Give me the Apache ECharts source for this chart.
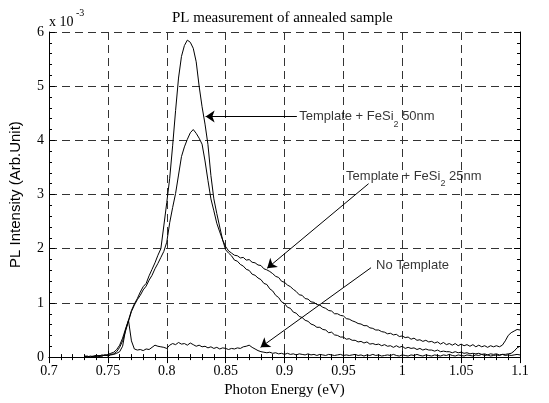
<!DOCTYPE html>
<html>
<head>
<meta charset="utf-8">
<script src="https://cdn.jsdelivr.net/npm/echarts@6/dist/echarts.min.js"></script>
<style>
  html, body { margin: 0; padding: 0; background: #fff; }
  #chart { width: 549px; height: 403px; }
</style>
</head>
<body>
<div id="chart"></div>
<script>
// photon energy (eV), one row = 0.025 eV
const energy = [
  0.73, 0.7325, 0.735, 0.7375, 0.74, 0.7425, 0.745, 0.7475, 0.75, 0.7525,
  0.755, 0.7575, 0.76, 0.7625, 0.765, 0.7675, 0.77, 0.7725, 0.775, 0.7775,
  0.78, 0.7825, 0.785, 0.7875, 0.79, 0.7925, 0.795, 0.7975, 0.8, 0.8025,
  0.805, 0.8075, 0.81, 0.8125, 0.815, 0.8175, 0.82, 0.8225, 0.825, 0.8275,
  0.83, 0.8325, 0.835, 0.8375, 0.84, 0.8425, 0.845, 0.8475, 0.85, 0.8525,
  0.855, 0.8575, 0.86, 0.8625, 0.865, 0.8675, 0.87, 0.8725, 0.875, 0.8775,
  0.88, 0.8825, 0.885, 0.8875, 0.89, 0.8925, 0.895, 0.8975, 0.9, 0.9025,
  0.905, 0.9075, 0.91, 0.9125, 0.915, 0.9175, 0.92, 0.9225, 0.925, 0.9275,
  0.93, 0.9325, 0.935, 0.9375, 0.94, 0.9425, 0.945, 0.9475, 0.95, 0.9525,
  0.955, 0.9575, 0.96, 0.9625, 0.965, 0.9675, 0.97, 0.9725, 0.975, 0.9775,
  0.98, 0.9825, 0.985, 0.9875, 0.99, 0.9925, 0.995, 0.9975, 1.0, 1.0025,
  1.005, 1.0075, 1.01, 1.0125, 1.015, 1.0175, 1.02, 1.0225, 1.025, 1.0275,
  1.03, 1.0325, 1.035, 1.0375, 1.04, 1.0425, 1.045, 1.0475, 1.05, 1.0525,
  1.055, 1.0575, 1.06, 1.0625, 1.065, 1.0675, 1.07, 1.0725, 1.075, 1.0775,
  1.08, 1.0825, 1.085, 1.0875, 1.09, 1.0925, 1.095, 1.0975, 1.1
];

// Template + FeSi2 50nm  (x 10^-3)
const fesi50 = [
  0.01, 0.00, 0.02, 0.01, 0.03, 0.02, 0.04, 0.03, 0.05, 0.07,
  0.09, 0.14, 0.22, 0.35, 0.52, 0.68, 0.86, 0.98, 1.08, 1.20,
  1.30, 1.36, 1.50, 1.62, 1.74, 1.88, 2.00, 2.42, 2.85, 3.30,
  3.90, 4.55, 5.15, 5.55, 5.75, 5.85, 5.81, 5.70, 5.45, 5.00,
  4.62, 4.30, 3.92, 3.35, 2.92, 2.65, 2.40, 2.16, 1.98, 1.92,
  1.87, 1.79, 1.77, 1.71, 1.68, 1.62, 1.60, 1.53, 1.51, 1.46,
  1.43, 1.36, 1.34, 1.26, 1.22, 1.14, 1.10, 1.02, 0.99, 0.92,
  0.90, 0.83, 0.81, 0.75, 0.73, 0.68, 0.66, 0.61, 0.59, 0.55,
  0.55, 0.51, 0.50, 0.45, 0.46, 0.41, 0.40, 0.37, 0.37, 0.33,
  0.34, 0.31, 0.31, 0.28, 0.29, 0.26, 0.28, 0.24, 0.25, 0.23,
  0.24, 0.21, 0.23, 0.20, 0.21, 0.18, 0.21, 0.18, 0.20, 0.16,
  0.18, 0.16, 0.17, 0.14, 0.16, 0.13, 0.15, 0.13, 0.13, 0.11,
  0.13, 0.10, 0.11, 0.10, 0.10, 0.08, 0.10, 0.08, 0.09, 0.07,
  0.08, 0.06, 0.07, 0.06, 0.07, 0.05, 0.06, 0.04, 0.06, 0.05,
  0.06, 0.04, 0.05, 0.05, 0.06, 0.07, 0.11, 0.17, 0.20
];

// Template + FeSi2 25nm
const fesi25 = [
  0.02, 0.01, 0.00, 0.02, 0.01, 0.03, 0.02, 0.04, 0.03, 0.05,
  0.06, 0.10, 0.18, 0.30, 0.48, 0.66, 0.84, 0.96, 1.06, 1.14,
  1.24, 1.31, 1.42, 1.51, 1.63, 1.73, 1.84, 1.95, 2.12, 2.48,
  2.76, 3.02, 3.36, 3.70, 3.88, 4.02, 4.14, 4.20, 4.13, 4.04,
  3.93, 3.62, 3.26, 2.92, 2.70, 2.47, 2.31, 2.16, 2.04, 1.96,
  1.92, 1.88, 1.87, 1.83, 1.84, 1.79, 1.80, 1.75, 1.74, 1.70,
  1.69, 1.63, 1.61, 1.58, 1.54, 1.49, 1.47, 1.40, 1.38, 1.33,
  1.30, 1.25, 1.21, 1.15, 1.14, 1.08, 1.07, 1.02, 1.01, 0.97,
  0.96, 0.92, 0.90, 0.86, 0.85, 0.80, 0.80, 0.77, 0.76, 0.71,
  0.70, 0.67, 0.65, 0.62, 0.61, 0.58, 0.58, 0.54, 0.53, 0.50,
  0.50, 0.47, 0.46, 0.43, 0.44, 0.41, 0.42, 0.38, 0.39, 0.36,
  0.37, 0.33, 0.35, 0.31, 0.32, 0.29, 0.31, 0.28, 0.29, 0.26,
  0.28, 0.24, 0.27, 0.23, 0.25, 0.22, 0.25, 0.21, 0.24, 0.21,
  0.23, 0.20, 0.23, 0.19, 0.22, 0.19, 0.21, 0.18, 0.21, 0.19,
  0.21, 0.19, 0.22, 0.30, 0.40, 0.45, 0.48, 0.51, 0.50
];

// No Template
const noTemplate = [
  0.01, 0.02, 0.00, 0.01, 0.03, 0.01, 0.02, 0.04, 0.02, 0.04,
  0.05, 0.07, 0.10, 0.20, 0.50, 0.68, 0.30, 0.15, 0.13, 0.14,
  0.12, 0.15, 0.14, 0.18, 0.22, 0.20, 0.19, 0.18, 0.16, 0.22,
  0.25, 0.23, 0.27, 0.24, 0.25, 0.22, 0.26, 0.23, 0.20, 0.22,
  0.19, 0.20, 0.17, 0.19, 0.16, 0.18, 0.15, 0.17, 0.16, 0.14,
  0.16, 0.15, 0.17, 0.16, 0.19, 0.20, 0.22, 0.18, 0.15, 0.12,
  0.10, 0.09, 0.08, 0.09, 0.07, 0.08, 0.06, 0.07, 0.05, 0.07,
  0.05, 0.06, 0.04, 0.06, 0.05, 0.04, 0.06, 0.04, 0.05, 0.03,
  0.05, 0.04, 0.03, 0.05, 0.04, 0.03, 0.04, 0.05, 0.03, 0.04,
  0.03, 0.04, 0.05, 0.03, 0.04, 0.02, 0.04, 0.03, 0.05, 0.03,
  0.04, 0.02, 0.03, 0.04, 0.03, 0.05, 0.03, 0.02, 0.04, 0.03,
  0.02, 0.04, 0.03, 0.05, 0.03, 0.02, 0.04, 0.03, 0.02, 0.04,
  0.03, 0.02, 0.04, 0.03, 0.05, 0.03, 0.02, 0.04, 0.03, 0.02,
  0.04, 0.03, 0.02, 0.04, 0.03, 0.05, 0.03, 0.04, 0.02, 0.03,
  0.04, 0.03, 0.05, 0.03, 0.04, 0.03, 0.04, 0.05, 0.04
];

// annotations: label anchor, arrow tail, arrow head (data coords)
const labelText = [
  'Template + FeSi{s|2} 50nm',
  'Template + FeSi{s|2} 25nm',
  'No Template'
];
const labelPos = [[0.9125, 4.44], [0.9523, 3.34], [0.9777, 1.69]];
const arrowFrom = [[0.9105, 4.44], [0.9714, 3.20], [0.9735, 1.65]];
const arrowTo = [[0.8330, 4.44], [0.8853, 1.64], [0.8797, 0.18]];

const serif = '"Liberation Serif", "Times New Roman", serif';
const sans = '"Liberation Sans", Arial, sans-serif';

function pairs(ys) {
  return energy.map(function (e, i) { return [e, ys[i]]; });
}

const chart = echarts.init(document.getElementById('chart'));

const baseAxis = {
  axisLine: { show: true, lineStyle: { color: '#000', width: 1 } },
  axisTick: { show: true, inside: true, length: 6, lineStyle: { color: '#000' } },
  minorTick: { show: true, splitNumber: 5, length: 3, lineStyle: { color: '#000' } },
};

const option = {
  animation: false,
  backgroundColor: '#fff',
  title: {
    text: 'PL measurement of annealed sample',
    left: 167,
    top: 6,
    textStyle: { fontFamily: serif, fontSize: 15, fontWeight: 'normal', color: '#000' }
  },
  graphic: [
    { type: 'text', left: 49, top: 15, style: { text: 'x 10', font: '14px ' + serif, fill: '#000' } },
    { type: 'text', left: 76, top: 8, style: { text: '-3', font: '10px ' + serif, fill: '#000' } }
  ],
  grid: { left: 48, right: 29, top: 32, bottom: 40 },
  xAxis: [
    Object.assign({}, baseAxis, {
      type: 'value', position: 'bottom', min: 0.7, max: 1.1, interval: 0.05,
      name: 'Photon Energy (eV)', nameLocation: 'middle', nameGap: 21,
      nameTextStyle: { fontFamily: serif, fontSize: 15, color: '#000' },
      axisLabel: {
        margin: 7, color: '#000', fontFamily: serif, fontSize: 14,
        formatter: function (v) { return String(+v.toFixed(2)); }
      },
      splitLine: { show: true, lineStyle: { color: '#333', type: [8, 5], width: 1 } }
    }),
    Object.assign({}, baseAxis, {
      type: 'value', position: 'top', min: 0.7, max: 1.1, interval: 0.05,
      axisLabel: { show: false }, splitLine: { show: false }
    })
  ],
  yAxis: [
    Object.assign({}, baseAxis, {
      type: 'value', position: 'left', min: 0, max: 6, interval: 1,
      name: 'PL Intensity (Arb.Unit)', nameLocation: 'middle', nameGap: 26,
      nameTextStyle: { fontFamily: sans, fontSize: 15, color: '#000' },
      axisLabel: { margin: 5, color: '#000', fontFamily: serif, fontSize: 14 },
      splitLine: { show: true, lineStyle: { color: '#333', type: [8, 5], width: 1 } }
    }),
    Object.assign({}, baseAxis, {
      type: 'value', position: 'right', min: 0, max: 6, interval: 1,
      axisLabel: { show: false }, splitLine: { show: false }
    })
  ],
  series: [
    {
      name: 'Template + FeSi2 50nm', type: 'line', data: pairs(fesi50),
      showSymbol: false, lineStyle: { color: '#000', width: 1 }, silent: true
    },
    {
      name: 'Template + FeSi2 25nm', type: 'line', data: pairs(fesi25),
      showSymbol: false, lineStyle: { color: '#000', width: 1 }, silent: true
    },
    {
      name: 'No Template', type: 'line', data: pairs(noTemplate),
      showSymbol: false, lineStyle: { color: '#000', width: 1 }, silent: true
    },
    {
      name: 'labels', type: 'scatter', data: labelPos, symbolSize: 0, silent: true,
      label: {
        show: true, position: 'right', distance: 0,
        formatter: function (p) { return labelText[p.dataIndex]; },
        rich: {
          s: { fontFamily: sans, fontSize: 9, color: '#000', lineHeight: 24, verticalAlign: 'bottom' }
        },
        fontFamily: sans, fontSize: 13, color: '#000', lineHeight: 24, verticalAlign: 'middle'
      },
      markLine: {
        silent: true, animation: false,
        symbol: ['none', 'arrow'], symbolSize: 9,
        label: { show: false },
        lineStyle: { color: '#000', width: 1, type: 'solid' },
        data: arrowFrom.map(function (f, i) {
          return [{ coord: f }, { coord: arrowTo[i] }];
        })
      }
    }
  ]
};

chart.setOption(option);
</script>
</body>
</html>
